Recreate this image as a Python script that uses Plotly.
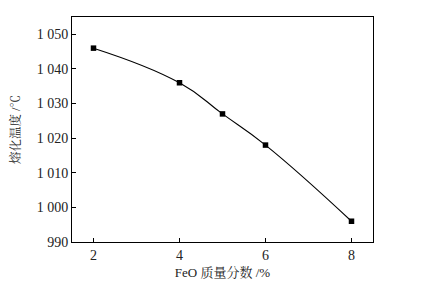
import plotly.graph_objects as go

feo = [2, 4, 5, 6, 8]
temp = [1046, 1036, 1027, 1018, 996]
y_ticks = [990, 1000, 1010, 1020, 1030, 1040, 1050]
y_labels = ["990", "1 000", "1 010", "1 020", "1 030", "1 040", "1 050"]
x_ticks = [2, 4, 6, 8]

font_fam = "Liberation Serif, Noto Serif CJK SC, Noto Sans CJK SC, serif"

fig = go.Figure(go.Scatter(
    x=feo, y=temp, mode="lines+markers",
    line=dict(color="black", width=1.1, shape="spline", smoothing=1.3),
    marker=dict(symbol="square", size=5.5, color="black"),
))
# the page body adds an 8px offset, so margins are compensated
fig.update_layout(
    width=426, height=287,
    margin=dict(l=64, r=61, t=9, b=53),
    paper_bgcolor="white", plot_bgcolor="white",
    showlegend=False,
    font=dict(family=font_fam, size=14, color="#222"),
)
fig.update_xaxes(
    range=[1.5, 8.5], tickvals=x_ticks, ticks="inside", ticklen=4,
    tickcolor="black", showline=True, linecolor="black", linewidth=1,
    mirror=True, showgrid=False, zeroline=False, automargin=False,
    title=dict(text="FeO 质量分数 /%", font=dict(size=13), standoff=6),
)
fig.update_yaxes(
    range=[990, 1055], tickvals=y_ticks, ticktext=y_labels, ticks="inside",
    ticklen=4, tickcolor="black", showline=True, linecolor="black",
    linewidth=1, mirror=True, showgrid=False, zeroline=False, automargin=False,
    title=dict(text="熔化温度 /℃", font=dict(size=12.5), standoff=14),
)
fig.write_html("out.html")
